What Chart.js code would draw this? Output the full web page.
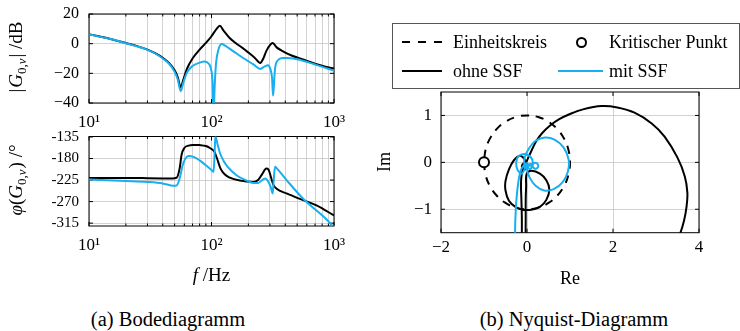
<!DOCTYPE html>
<html>
<head>
<meta charset="utf-8">
<script src="https://cdn.jsdelivr.net/npm/chart.js@4.4.0/dist/chart.umd.min.js"></script>
<style>
  body { margin: 0; width: 740px; height: 331px; background: #fff; position: relative; overflow: hidden;
         font-family: "Liberation Serif", "DejaVu Serif", serif; color: #000; }
  canvas { position: absolute; }
  #legend { position: absolute; left: 392px; top: 23px; width: 346px; height: 64px; border: 1px solid #555; font-size: 18px; }
  #legend span, #legend svg { position: absolute; }
  #legend span { line-height: 20px; white-space: nowrap; }
  .cap { position: absolute; top: 307px; font-size: 20.5px; line-height: 25px; transform: translateX(-50%); white-space: nowrap; }
</style>
</head>
<body>
<canvas id="mag" width="345" height="140" style="left:0px;top:0px"></canvas>
<canvas id="phase" width="345" height="165" style="left:0px;top:125px"></canvas>
<canvas id="nyq" width="370" height="215" style="left:370px;top:80px"></canvas>

<div id="legend">
  <svg style="left:9px;top:15px" width="40" height="6"><line x1="0" y1="3" x2="40" y2="3" stroke="#000" stroke-width="2" stroke-dasharray="8,8"/></svg>
  <span style="left:60px;top:8px">Einheitskreis</span>
  <svg style="left:182px;top:12px" width="13" height="13"><circle cx="6.5" cy="6.5" r="4.5" fill="#fff" stroke="#000" stroke-width="2"/></svg>
  <span style="left:216px;top:8px">Kritischer Punkt</span>
  <svg style="left:9px;top:44px" width="40" height="6"><line x1="0" y1="3" x2="40" y2="3" stroke="#000" stroke-width="2"/></svg>
  <span style="left:60px;top:37px">ohne SSF</span>
  <svg style="left:165px;top:44px" width="45" height="6"><line x1="0" y1="3" x2="45" y2="3" stroke="#17aff0" stroke-width="2"/></svg>
  <span style="left:216px;top:37px">mit SSF</span>
</div>

<div class="cap" style="left:168px">(a) Bodediagramm</div>
<div class="cap" style="left:574px">(b) Nyquist-Diagramm</div>

<script>
// Bode, ohne SSF
const ohneMagF = [10, 15, 20, 25, 30, 35, 40, 45, 50, 53, 56, 59, 63, 70, 80, 90, 100, 110, 117, 125, 140, 160, 180, 200, 225, 250, 265, 280, 300, 316, 340, 380, 450, 550, 700, 850, 1000];
const ohneMagDb = [6.3, 3.2, 0.4, -1.8, -4, -6.5, -9.5, -13, -18, -22.5, -29.5, -24, -17, -10, -4, 0.5, 5, 10, 12, 9, 4, 0, -3, -6, -9.5, -13, -10, -5, -1, 0.4, -2.5, -5, -8, -10.5, -13.5, -15.5, -16.8];
const ohnePhaseF = [10, 20, 30, 40, 48, 52, 55, 57, 60, 65, 70, 80, 90, 97, 105, 111, 118, 128, 141, 170, 219, 240, 260, 280, 292, 305, 320, 340, 410, 560, 720, 1000];
const ohnePhaseDeg = [-220.5, -220.5, -221, -221.5, -222, -220, -200, -172, -158, -153, -151.5, -152, -154, -158, -165, -180, -200, -213, -220, -226, -229, -225, -212, -201, -203, -218, -235, -243, -253, -267, -278, -299];

// Bode, mit SSF
const mitMagF = [10, 15, 20, 25, 30, 35, 40, 45, 50, 53, 56, 59, 63, 70, 80, 88, 95, 99, 102, 104, 106, 109, 114, 121, 130, 150, 180, 220, 250, 270, 290, 302, 312, 318, 322, 330, 350, 380, 410, 500, 700, 850, 1000];
const mitMagDb = [6.3, 3.1, 0.3, -2, -4.2, -6.8, -10, -13.5, -19, -24, -32, -26, -19.5, -15, -12.8, -12, -13.5, -17, -26, -50, -30, -13, -4, -0.3, -1.5, -5, -9.5, -14, -17, -15.5, -14.5, -17, -23, -35, -30, -17, -11, -9.6, -9.7, -10.5, -14, -16.3, -18.2];
const mitPhaseF = [10, 20, 30, 40, 49, 52, 54, 56, 58, 61, 65, 72, 80, 90, 100, 104, 106, 107.5, 112, 117, 125, 135, 160, 190, 219, 240, 262, 275, 290, 305, 316, 322, 330, 340, 410, 560, 700, 850, 1000];
const mitPhaseDeg = [-224, -227, -229, -232, -237, -236, -228, -213, -195, -181, -175, -177, -184, -194, -204, -208, -170, -133, -150, -168, -184, -197, -215, -225, -231, -231, -224, -222, -228, -240, -253, -225, -197, -200, -225, -264, -286, -305, -324];

// Nyquist
const ohneRe = [-0.12, -0.12, -0.13, -0.14, -0.13, -0.09, -0.03, 0.03, 0.12, 0.22, 0.35, 0.53, 0.75, 1.0, 1.3, 1.74, 2.1, 2.5, 2.9, 3.2, 3.5, 3.67, 3.73, 3.71, 3.65, 3.55, 3.4,
  0.0, -0.03, -0.03, -0.03, -0.02, -0.01, 0.1, 0.3, 0.45, 0.52, 0.45, 0.3, 0.1, -0.1, -0.27, -0.42, -0.5, -0.5, -0.42, -0.3, -0.16, -0.06, -0.01,
  -0.06, -0.12, -0.07, 0.0, 0.01, -0.04, -0.03, -0.01];
const ohneIm = [-1.6, -1.2, -0.8, -0.5, -0.3, -0.12, -0.02, 0.1, 0.28, 0.46, 0.62, 0.78, 0.92, 1.03, 1.13, 1.2, 1.17, 1.06, 0.83, 0.55, 0.1, -0.3, -0.65, -0.95, -1.25, -1.55, -1.9,
  -2.0, -1.62, -1.2, -0.8, -0.5, -0.25, -0.18, -0.24, -0.38, -0.58, -0.8, -0.95, -1.01, -1.01, -0.95, -0.82, -0.6, -0.4, -0.15, 0.05, 0.14, 0.07, -0.04,
  -0.16, -0.1, -0.01, -0.03, -0.1, -0.1, -0.06, -0.07];
const mitRe = [-0.28, -0.27, -0.25, -0.22, -0.18, -0.13, -0.06, -0.01,
  -0.12, -0.22, -0.25, -0.2, -0.06, 0.08, 0.14, 0.08, 0.0,
  -0.06, -0.05, 0.05, 0.2, 0.42, 0.65, 0.85, 0.97, 0.95, 0.83, 0.62, 0.4, 0.2, 0.06, 0.0, 0.03,
  0.12, 0.2, 0.26, 0.24, 0.17, 0.12, 0.05,
  0.0, -0.06, -0.05, 0.01, 0.02, 0.0];
const mitIm = [-1.6, -1.2, -0.85, -0.55, -0.3, -0.14, -0.05, -0.02,
  -0.24, -0.16, 0.0, 0.13, 0.18, 0.12, -0.02, -0.14, -0.1,
  -0.06, 0.12, 0.3, 0.46, 0.53, 0.48, 0.32, 0.05, -0.2, -0.42, -0.57, -0.6, -0.5, -0.32, -0.15, -0.05,
  -0.03, -0.01, -0.06, -0.12, -0.13, -0.08, -0.07,
  -0.12, -0.1, -0.03, -0.04, -0.08, -0.07];
const kreisRe = [-1, -0.966, -0.866, -0.707, -0.5, -0.259, 0, 0.259, 0.5, 0.707, 0.866, 0.966, 1, 0.966, 0.866, 0.707, 0.5, 0.259, 0, -0.259, -0.5, -0.707, -0.866, -0.966, -1];
const kreisIm = [0, -0.259, -0.5, -0.707, -0.866, -0.966, -1, -0.966, -0.866, -0.707, -0.5, -0.259, 0, 0.259, 0.5, 0.707, 0.866, 0.966, 1, 0.966, 0.866, 0.707, 0.5, 0.259, 0];
const kritRe = [-1];
const kritIm = [0];

// Achsen
const logTicks = [10, 20, 30, 40, 50, 60, 70, 80, 90, 100, 200, 300, 400, 500, 600, 700, 800, 900, 1000];
const decadeLabels = { 10: '10\u00b9', 100: '10\u00b2', 1000: '10\u00b3' };
const magTicks = [-40, -20, 0, 20];
const phaseTicks = [-315, -270, -225, -180, -135];
const reTicks = [-2, 0, 2, 4];
const imTicks = [-1, 0, 1];

const BLUE = '#17aff0';
const GRID = '#c6c6c6';
const SERIF = '"Liberation Serif", "DejaVu Serif", serif';

const pts = (xs, ys) => xs.map((x, i) => ({ x: x, y: ys[i] }));
const minus = v => (v < 0 ? '\u2212' + (-v) : String(v));

// canvas box and wanted chart area, both in page pixels
function fixedLayout(box, area) {
  return {
    padding: { left: 0, top: area.t - box.y, right: box.x + box.w - area.r, bottom: 0 },
    yWidth: area.l - box.x,
    xHeight: box.y + box.h - area.b
  };
}

function drawRich(ctx, runs, cx, cy, rot) {
  ctx.save();
  ctx.translate(cx, cy);
  ctx.rotate(rot || 0);
  ctx.textBaseline = 'alphabetic';
  ctx.fillStyle = '#000';
  let total = 0;
  runs.forEach(r => { ctx.font = r.f; r.w = ctx.measureText(r.t).width + (r.dx || 0); total += r.w; });
  let x = -total / 2;
  runs.forEach(r => { ctx.font = r.f; ctx.fillText(r.t, x, 6 + (r.dy || 0)); x += r.w; });
  ctx.restore();
}

function textPlugin(box, items) {
  return {
    id: 'texts',
    afterDraw(chart) {
      items.forEach(it => drawRich(chart.ctx, it.runs, it.x - box.x, it.y - box.y, it.rot));
    }
  };
}

Chart.register({
  id: 'frame',
  beforeDatasetsDraw(chart) {
    const { ctx, chartArea: a, scales } = chart;
    ctx.save();
    ctx.strokeStyle = '#000';
    ctx.lineWidth = 1;
    ctx.beginPath();
    scales.x.ticks.forEach(t => {
      const px = scales.x.getPixelForValue(t.value);
      const len = (decadeLabels[t.value] || scales.x.type !== 'logarithmic') ? 4 : 2.5;
      ctx.moveTo(px, a.bottom); ctx.lineTo(px, a.bottom - len);
      ctx.moveTo(px, a.top); ctx.lineTo(px, a.top + len);
    });
    scales.y.ticks.forEach(t => {
      const py = scales.y.getPixelForValue(t.value);
      ctx.moveTo(a.left, py); ctx.lineTo(a.left + 4, py);
      ctx.moveTo(a.right, py); ctx.lineTo(a.right - 4, py);
    });
    ctx.stroke();
    ctx.strokeRect(a.left, a.top, a.right - a.left, a.bottom - a.top);
    ctx.restore();
  }
});

function baseOptions(L) {
  return {
    responsive: false,
    animation: false,
    layout: { padding: L.padding },
    plugins: { legend: { display: false }, tooltip: { enabled: false } },
    elements: { point: { radius: 0 }, line: { borderWidth: 2, capBezierPoints: false } }
  };
}

function bodeX(L, showLabels) {
  return {
    type: 'logarithmic', min: 10, max: 1000,
    afterBuildTicks: s => { s.ticks = logTicks.map(v => ({ value: v })); },
    afterFit: s => { s.height = L.xHeight; s.paddingLeft = 0; s.paddingRight = 0; },
    grid: { color: GRID, lineWidth: 0.8, drawTicks: false },
    border: { display: false },
    ticks: {
      autoSkip: false, maxRotation: 0, minRotation: 0, padding: 9, color: '#000',
      font: { family: SERIF, size: 17 },
      callback: v => (showLabels ? (decadeLabels[v] || '') : '')
    }
  };
}

function linY(L, min, max, list, fmt, size) {
  return {
    min: min, max: max,
    afterBuildTicks: s => { s.ticks = list.map(v => ({ value: v })); },
    afterFit: s => { s.width = L.yWidth; s.paddingTop = 0; s.paddingBottom = 0; },
    grid: { color: GRID, lineWidth: 0.8, drawTicks: false },
    border: { display: false },
    ticks: { padding: 10, color: '#000', font: { family: SERIF, size: size }, callback: fmt }
  };
}

const it = s => 'italic ' + s + 'px ' + SERIF;
const rm = s => s + 'px ' + SERIF;

// Betrag
const magBox = { x: 0, y: 0, w: 345, h: 140 };
const magL = fixedLayout(magBox, { l: 89, t: 14, r: 334, b: 103 });
const magOpt = baseOptions(magL);
magOpt.scales = { x: bodeX(magL, true), y: linY(magL, -40, 20, magTicks, minus, 16) };
new Chart(document.getElementById('mag'), {
  type: 'line',
  data: {
    datasets: [
      { data: pts(mitMagF, mitMagDb), borderColor: BLUE, cubicInterpolationMode: 'monotone' },
      { data: pts(ohneMagF, ohneMagDb), borderColor: '#000', cubicInterpolationMode: 'monotone' }
    ]
  },
  options: magOpt,
  plugins: [textPlugin(magBox, [
    { x: 16, y: 57, rot: -Math.PI / 2, runs: [
      { t: '|', f: rm(19), dx: 1 }, { t: 'G', f: it(19) },
      { t: '0,', f: rm(13), dy: 4 }, { t: 'v', f: it(13), dy: 4, dx: 1 },
      { t: '|', f: rm(19) }, { t: ' /dB', f: rm(19) }
    ] }
  ])]
});

// Phase
const phBox = { x: 0, y: 125, w: 345, h: 165 };
const phL = fixedLayout(phBox, { l: 89, t: 136.5, r: 334, b: 226 });
const phOpt = baseOptions(phL);
phOpt.scales = { x: bodeX(phL, true), y: linY(phL, -321, -134, phaseTicks, v => String(v), 15) };
new Chart(document.getElementById('phase'), {
  type: 'line',
  data: {
    datasets: [
      { data: pts(mitPhaseF, mitPhaseDeg), borderColor: BLUE, cubicInterpolationMode: 'monotone' },
      { data: pts(ohnePhaseF, ohnePhaseDeg), borderColor: '#000', cubicInterpolationMode: 'monotone' }
    ]
  },
  options: phOpt,
  plugins: [textPlugin(phBox, [
    { x: 16, y: 180, rot: -Math.PI / 2, runs: [
      { t: '\u03c6', f: it(19) }, { t: '(', f: rm(19) }, { t: 'G', f: it(19) },
      { t: '0,', f: rm(13), dy: 4 }, { t: 'v', f: it(13), dy: 4, dx: 1 },
      { t: ')', f: rm(19) }, { t: ' /\u00b0', f: rm(19) }
    ] },
    { x: 211.5, y: 275, runs: [{ t: 'f', f: it(19) }, { t: ' /Hz', f: rm(19) }] }
  ])]
});

// Nyquist
const nyBox = { x: 370, y: 80, w: 370, h: 215 };
const nyL = fixedLayout(nyBox, { l: 441, t: 92, r: 699, b: 232.7 });
const nyOpt = baseOptions(nyL);
nyOpt.scales = {
  x: {
    type: 'linear', min: -2, max: 4,
    afterBuildTicks: s => { s.ticks = reTicks.map(v => ({ value: v })); },
    afterFit: s => { s.height = nyL.xHeight; s.paddingLeft = 0; s.paddingRight = 0; },
    grid: { color: GRID, lineWidth: 0.8, drawTicks: false },
    border: { display: false },
    ticks: { padding: 5, color: '#000', font: { family: SERIF, size: 17 }, callback: minus }
  },
  y: linY(nyL, -1.5, 1.5, imTicks, minus, 17)
};
nyOpt.scales.y.ticks.padding = 9;
new Chart(document.getElementById('nyq'), {
  type: 'scatter',
  data: {
    datasets: [
      { data: pts(kritRe, kritIm), showLine: false, pointRadius: 5, pointStyle: 'circle',
        pointBorderColor: '#000', pointBackgroundColor: '#fff', pointBorderWidth: 2 },
      { data: pts(mitRe, mitIm), showLine: true, borderColor: BLUE, tension: 0.35, pointRadius: 0 },
      { data: pts(ohneRe, ohneIm), showLine: true, borderColor: '#000', tension: 0.35, pointRadius: 0 },
      { data: pts(kreisRe, kreisIm), showLine: true, borderColor: '#000', borderDash: [8, 7], tension: 0.4, pointRadius: 0 }
    ]
  },
  options: nyOpt,
  plugins: [textPlugin(nyBox, [
    { x: 384, y: 162, rot: -Math.PI / 2, runs: [{ t: 'Im', f: rm(18) }] },
    { x: 570, y: 278, runs: [{ t: 'Re', f: rm(18) }] }
  ])]
});
</script>
</body>
</html>
